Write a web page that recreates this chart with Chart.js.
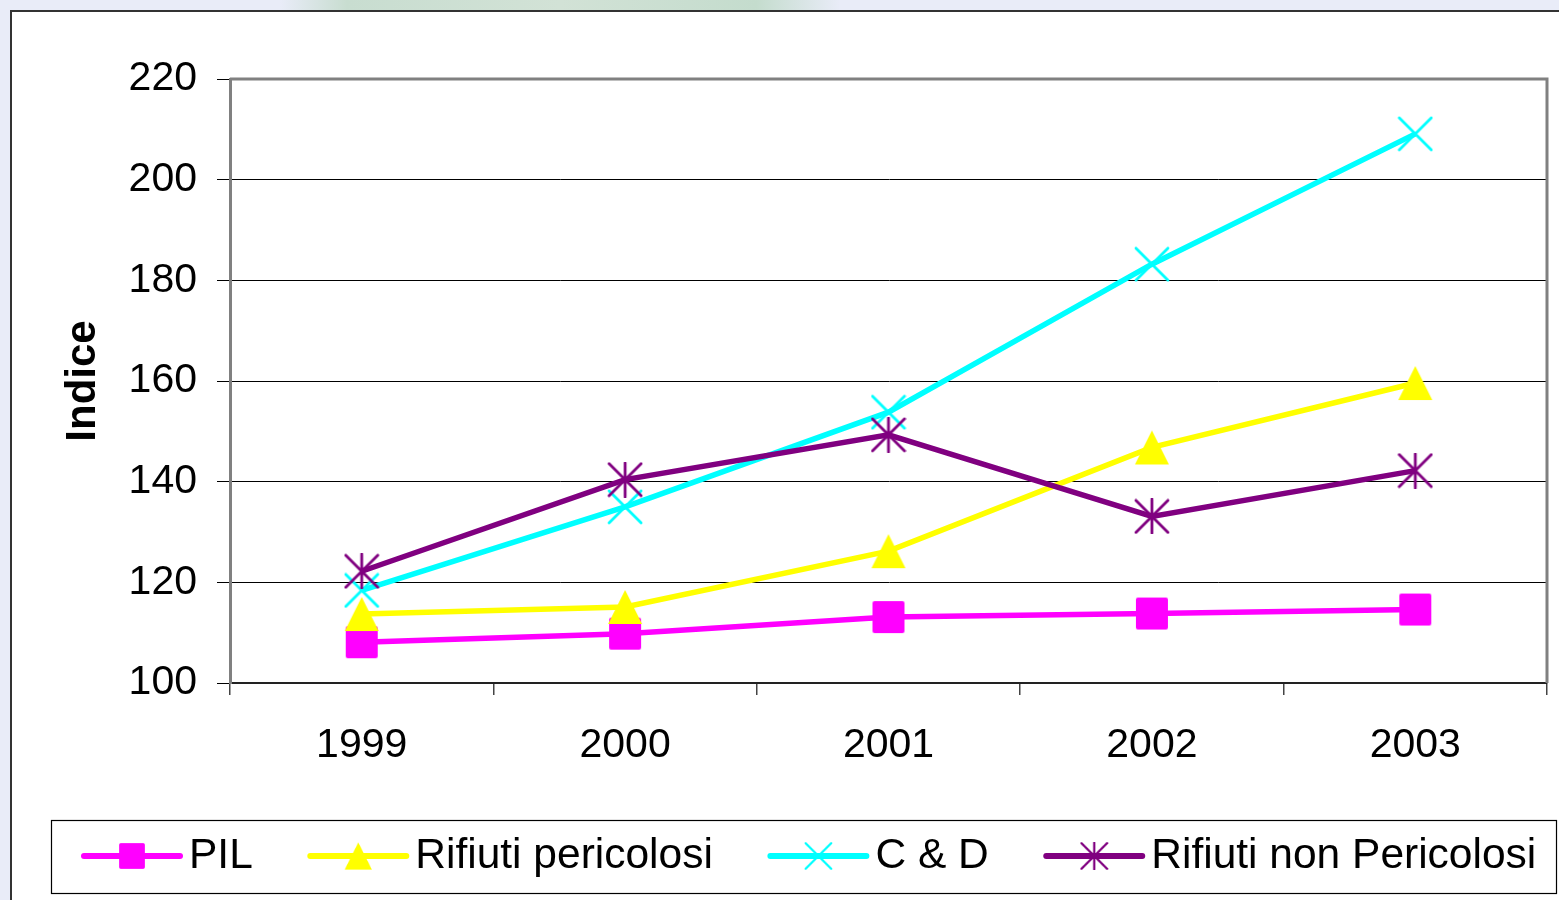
<!DOCTYPE html>
<html>
<head>
<meta charset="utf-8">
<script src="https://cdn.jsdelivr.net/npm/chart.js@4.4.1/dist/chart.umd.min.js"></script>
<style>
  html, body { margin: 0; padding: 0; width: 1559px; height: 900px; overflow: hidden; background: #e9ecf8; }
  #topband { position: absolute; left: 280px; top: 0; width: 560px; height: 11px;
    background: linear-gradient(to right, #e9ecf8, #c8ddd0 12%, #d2e2d6 50%, #c4dccd 85%, #e9ecf8); }
  #frame { position: absolute; left: 10px; top: 10px; width: 1600px; height: 1000px; background: #fff; border: 2px solid #333; }
  #chart { position: absolute; left: 0; top: 0; }
</style>
</head>
<body>
<div id="topband"></div>
<div id="frame"></div>
<canvas id="chart" width="1559" height="900"></canvas>
<script>
// values
const years = ["1999", "2000", "2001", "2002", "2003"];
const seriesNames = ["PIL", "Rifiuti pericolosi", "C & D", "Rifiuti non Pericolosi"];
const pil = [108.1, 109.8, 113.1, 113.8, 114.6];
const pericolosi = [113.7, 115.1, 126.2, 146.8, 159.6];
const cd = [118.4, 135.0, 153.8, 183.2, 209.1];
const nonPericolosi = [122.2, 140.4, 149.3, 133.1, 142.2];
const yMin = 100, yMax = 220, yStep = 20;

const FONT = "'Liberation Sans', Arial, sans-serif";

// marker images (Excel style)
function makeMarker(kind, color) {
    const c = document.createElement("canvas");
    c.width = 36; c.height = 36;
    const g = c.getContext("2d");
    g.fillStyle = color;
    g.strokeStyle = color;
    g.lineWidth = 2.8;
    g.lineCap = "round";
    if (kind === "square") {
        g.beginPath();
        g.roundRect(2, 2, 32, 32, 2);
        g.fill();
    } else if (kind === "triangle") {
        g.beginPath();
        g.moveTo(18, 1);
        g.lineTo(35, 35);
        g.lineTo(1, 35);
        g.closePath();
        g.fill();
    } else {
        g.beginPath();
        g.moveTo(2, 2); g.lineTo(34, 34);
        g.moveTo(34, 2); g.lineTo(2, 34);
        if (kind === "star") { g.moveTo(18, 1); g.lineTo(18, 35); }
        g.stroke();
    }
    return c;
}

const colors = ["#ff00ff", "#ffff00", "#00ffff", "#800080"];
const markers = [
    makeMarker("square", colors[0]),
    makeMarker("triangle", colors[1]),
    makeMarker("cross", colors[2]),
    makeMarker("star", colors[3])
];
const values = [pil, pericolosi, cd, nonPericolosi];

const datasets = values.map((v, i) => ({
    label: seriesNames[i],
    data: v,
    borderColor: colors[i],
    backgroundColor: colors[i],
    borderWidth: 5.5,
    pointStyle: markers[i],
    pointRadius: 18,
    pointHoverRadius: 18,
    tension: 0,
    order: values.length - i   // later series drawn on top
}));

// gray frame on top / right of the plot area
const framePlugin = {
    id: "frame",
    beforeDatasetsDraw(chart) {
        const { ctx, chartArea: a } = chart;
        ctx.save();
        ctx.strokeStyle = "#808080";
        ctx.lineWidth = 3;
        ctx.beginPath();
        ctx.moveTo(a.left, a.top);
        ctx.lineTo(a.right, a.top);
        ctx.lineTo(a.right, a.bottom);
        ctx.stroke();
        ctx.restore();
    }
};

// boxed legend under the chart
const legendPlugin = {
    id: "boxLegend",
    afterDraw(chart) {
        const ctx = chart.ctx;
        ctx.save();
        ctx.fillStyle = "#fff";
        ctx.fillRect(51, 820, 1505, 73);
        ctx.strokeStyle = "#000";
        ctx.lineWidth = 1.2;
        ctx.strokeRect(51.5, 820.5, 1505, 73);

        ctx.font = "42.5px " + FONT;
        ctx.textBaseline = "middle";
        const cy = 856;
        let x = 84;
        chart.data.datasets.forEach(ds => {
            ctx.strokeStyle = ds.borderColor;
            ctx.lineWidth = 6;
            ctx.lineCap = "round";
            ctx.beginPath();
            ctx.moveTo(x, cy);
            ctx.lineTo(x + 96, cy);
            ctx.stroke();
            const m = ds.pointStyle;
            const s = 0.8;
            ctx.drawImage(m, x + 48 - m.width * s / 2, cy - m.height * s / 2, m.width * s, m.height * s);
            ctx.fillStyle = "#000";
            ctx.fillText(ds.label, x + 105, cy);
            x += 105 + ctx.measureText(ds.label).width + 57.5;
        });
        ctx.restore();
    }
};

new Chart(document.getElementById("chart"), {
    type: "line",
    data: { labels: years, datasets },
    options: {
        responsive: false,
        animation: false,
        layout: { autoPadding: false, padding: { left: 0, top: 79, right: 12, bottom: 0 } },
        plugins: {
            legend: { display: false },
            tooltip: { enabled: false }
        },
        scales: {
            x: {
                offset: true,
                afterFit: s => { s.height = 217; s.paddingLeft = 0; s.paddingRight = 0; },
                grid: { offset: true, drawOnChartArea: false, drawTicks: true, tickLength: 12, color: "#444", lineWidth: 1.5 },
                border: { color: "#222", width: 2 },
                ticks: { color: "#000", padding: 26, font: { family: FONT, size: 41 } }
            },
            y: {
                min: yMin,
                max: yMax,
                afterFit: s => { s.width = 230; },
                ticks: { stepSize: yStep, color: "#000", padding: 20, font: { family: FONT, size: 41 } },
                grid: { color: "#000", lineWidth: 1, tickLength: 13 },
                border: { color: "#808080", width: 3 },
                title: {
                    display: true,
                    text: "Indice",
                    color: "#000",
                    font: { family: FONT, size: 42, weight: "bold" },
                    padding: { top: 58, bottom: 0 }
                }
            }
        }
    },
    plugins: [framePlugin, legendPlugin]
});
</script>
</body>
</html>
